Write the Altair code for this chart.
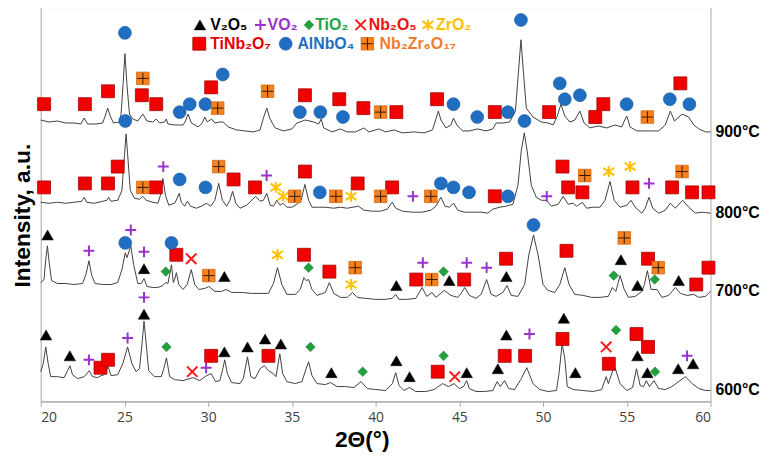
import altair as alt
import pandas as pd

# ---------------- data (2θ in degrees, intensity in a.u., stacked patterns) ----------------
temps = ["900°C", "800°C", "700°C", "600°C"]

p900 = [(20.0,284),(20.5,282),(21.0,283),(21.5,281),(22.0,281),(22.4,280),(22.6,286),(22.8,280),(23.3,280),
        (23.7,281),(23.85,288),(24.0,296),(24.15,288),(24.35,281),(24.7,282),(24.8,290),(24.92,320),(25.03,351),
        (25.15,320),(25.3,290),(25.5,285),(25.8,283),(26.1,290),(26.35,283),(26.7,282),(26.9,285),(27.1,281),
        (27.4,282),(27.5,285),(27.6,280),(28.0,279),(28.5,279),(28.65,283),(28.8,290),(29.0,281),(29.4,277),
        (29.65,281),(29.8,287),(29.95,282),(30.2,285),(30.4,281),(30.7,282),(30.9,282),(31.2,277),(31.7,274),
        (32.2,273),(32.7,272),(33.1,274),(33.3,286),(33.5,296),(33.7,285),(34.0,276),(34.5,273),(35.0,275),
        (35.3,281),(35.8,284),(36.3,282),(36.6,280),(36.75,285),(36.9,276),(37.4,272),(37.9,275),(38.3,272),
        (38.8,272),(39.3,276),(39.6,272),(40.2,275),(40.6,272),(41.1,274),(41.6,271),(42.3,272),(42.9,271),
        (43.4,274),(43.6,285),(43.75,293),(43.9,284),(44.2,276),(44.5,279),(44.65,286),(44.85,279),(45.2,273),
        (45.6,273),(46.1,275),(46.6,273),(47.0,275),(47.2,281),(47.6,281),(48.0,282),(48.35,293),(48.52,330),
        (48.68,365),(48.84,330),(49.0,296),(49.4,287),(49.9,282),(50.3,281),(50.6,279),(50.85,288),(51.07,300),
        (51.3,288),(51.6,282),(51.9,284),(52.2,293),(52.45,281),(52.8,276),(53.3,278),(53.8,276),(54.3,279),
        (54.7,277),(54.85,283),(55.0,288),(55.2,277),(55.6,273),(56.3,273),(56.9,273),(57.3,279),(57.6,293),
        (57.85,283),(58.3,290),(58.7,287),(59.0,279),(59.3,275),(59.7,272),(60.0,272)]

p800 = [(20.0,201),(20.5,200),(21.0,201),(21.5,200),(22.0,201),(22.45,202),(22.6,206),(22.75,201),(23.2,200),
        (23.7,202),(23.95,203),(24.06,206),(24.2,202),(24.6,203),(24.85,213),(24.98,243),(25.1,270),(25.22,243),
        (25.35,213),(25.6,205),(25.9,204),(26.1,207),(26.3,203),(26.7,201),(27.0,200),(27.15,208),(27.3,225),
        (27.45,208),(27.65,198),(28.0,200),(28.15,205),(28.27,210),(28.4,201),(28.6,197),(28.76,202),(28.95,197),
        (29.3,195),(29.6,197),(29.9,200),(30.15,197),(30.4,203),(30.63,220),(30.85,203),(31.1,197),(31.3,203),
        (31.46,212),(31.65,200),(31.9,195),(32.3,198),(32.84,207),(33.1,202),(33.3,203),(33.5,210),(33.7,198),
        (33.9,197),(34.1,203),(34.3,198),(34.48,200),(34.7,196),(35.0,196),(35.3,199),(35.55,203),(35.78,219),
        (36.0,203),(36.2,196),(36.6,196),(37.0,196),(37.5,195),(37.9,196),(38.3,195),(38.98,197),(39.3,193),
        (39.8,192),(40.3,192),(40.7,194),(40.99,201),(41.2,195),(41.6,192),(42.2,191),(42.8,191),(43.3,193),
        (43.6,197),(43.9,206),(44.15,197),(44.4,196),(44.67,200),(44.9,193),(45.3,191),(45.8,191),(46.3,191),
        (46.7,190),(47.0,194),(47.4,196),(47.8,197),(48.2,199),(48.5,218),(48.7,253),(48.88,271),(49.05,253),
        (49.3,218),(49.6,206),(49.9,203),(50.2,203),(50.5,197),(50.9,199),(51.2,207),(51.5,199),(51.8,200),
        (52.0,197),(52.35,201),(52.6,195),(53.0,196),(53.4,196),(53.7,203),(54.0,222),(54.25,203),(54.6,196),
        (55.0,198),(55.25,203),(55.5,196),(55.9,190),(56.1,195),(56.33,206),(56.55,195),(56.9,190),(57.3,193),
        (57.6,200),(57.9,195),(58.34,203),(58.7,196),(59.1,190),(59.5,191),(60.0,190)]

p700 = [(20.0,120),(20.2,123),(20.3,143),(20.4,157),(20.5,141),(20.65,122),(21.0,119),(21.5,119),(22.0,118),
        (22.5,119),(22.7,128),(22.88,142),(23.05,127),(23.25,119),(23.7,118),(24.2,118),(24.6,120),(24.85,133),
        (25.05,150),(25.15,145),(25.38,157),(25.55,138),(25.8,119),(26.0,119),(26.17,124),(26.35,116),(26.7,115),
        (27.0,115),(27.3,117),(27.47,120),(27.6,119),(27.7,128),(27.81,138),(27.92,120),(28.0,123),(28.1,130),
        (28.25,118),(28.5,113),(28.75,118),(28.99,133),(29.2,118),(29.45,113),(29.8,114),(30.04,116),(30.4,111),
        (30.8,111),(31.07,113),(31.4,110),(32.0,110),(32.6,109),(33.1,109),(33.6,109),(33.9,119),(34.14,135),
        (34.4,118),(34.7,108),(35.2,108),(35.5,113),(35.72,125),(35.85,122),(36.0,123),(36.2,113),(36.5,107),
        (37.0,110),(37.24,120),(37.5,109),(37.9,105),(38.3,105),(38.62,110),(38.9,105),(39.4,104),(40.0,103),
        (40.6,103),(41.0,104),(41.2,108),(41.4,103),(41.9,103),(42.4,104),(42.78,115),(43.05,106),(43.37,110),
        (43.6,105),(44.1,112),(44.5,107),(44.9,105),(45.1,109),(45.33,115),(45.6,107),(46.0,104),(46.3,108),
        (46.63,123),(46.9,108),(47.2,106),(47.6,110),(47.85,117),(48.1,107),(48.5,106),(48.9,118),(49.15,148),
        (49.43,168),(49.7,148),(50.0,118),(50.3,112),(50.7,110),(51.0,118),(51.3,135),(51.55,118),(51.9,108),
        (52.4,107),(52.9,105),(53.4,105),(53.9,106),(54.14,115),(54.35,111),(54.6,127),(54.85,113),(55.1,105),
        (55.5,106),(55.9,111),(56.05,118),(56.23,132),(56.45,113),(56.8,113),(57.1,105),(57.5,107),(57.9,115),
        (58.2,109),(58.6,107),(59.0,108),(59.3,105),(59.7,106),(60.0,111)]

p600 = [(20.0,30),(20.15,38),(20.3,55),(20.45,38),(20.6,25),(21.0,25),(21.4,24),(21.6,31),(21.75,36),(21.9,27),
        (22.2,23),(22.6,25),(22.9,31),(23.1,25),(23.4,24),(23.6,26),(23.8,27),(24.03,35),(24.2,26),(24.6,27),
        (24.9,38),(25.19,55),(25.45,38),(25.7,30),(25.9,33),(26.05,58),(26.17,81),(26.3,58),(26.45,31),(26.8,25),
        (27.2,25),(27.35,33),(27.51,44),(27.7,25),(28.0,22),(28.5,21),(29.1,24),(29.5,21),(29.9,26),(30.18,28),
        (30.45,20),(30.7,21),(30.85,31),(30.99,42),(31.15,28),(31.4,19),(31.9,18),(32.1,23),(32.35,45),(32.55,25),
        (32.8,23),(33.1,33),(33.36,36),(33.6,31),(33.9,28),(34.05,25),(34.28,48),(34.45,28),(34.7,20),(35.2,18),
        (35.6,20),(35.85,33),(36.0,40),(36.2,26),(36.5,18),(37.0,17),(37.3,19),(37.7,15),(38.2,15),(38.7,14),
        (39.13,20),(39.5,13),(40.0,12),(40.6,11),(41.0,18),(41.2,29),(41.4,16),(41.7,11),(42.03,14),(42.4,10),
        (43.0,10),(43.5,12),(44.0,18),(44.35,15),(44.69,18),(45.0,13),(45.25,15),(45.44,21),(45.6,13),(46.0,10),
        (46.5,10),(47.0,11),(47.26,20),(47.45,15),(47.7,21),(47.95,13),(48.3,12),(48.7,23),(49.03,34),(49.4,18),
        (49.8,12),(50.3,10),(50.8,11),(50.95,28),(51.14,58),(51.3,43),(51.45,15),(51.8,12),(52.4,11),(53.0,10),
        (53.5,12),(53.77,25),(53.9,18),(54.26,36),(54.6,18),(55.0,11),(55.35,14),(55.58,33),(55.8,16),(56.0,15),
        (56.17,21),(56.35,15),(56.63,21),(56.9,13),(57.3,12),(57.7,15),(58.1,20),(58.5,25),(58.9,18),(59.3,13),
        (59.7,11),(60.0,11)]

# phase identification marks: (2θ, intensity)
V2O5 = [(20.41,168),(26.17,134),(30.97,126),(41.24,117),(44.4,122),(47.81,126),(54.65,143),(55.64,117),(58.1,122),
        (20.32,67),(21.74,46),(26.17,88),(30.97,50),(32.35,55),(33.4,63),(34.34,58),(37.36,29),(41.24,41),
        (42.03,25),(45.44,29),(47.3,33),(47.81,67),(51.24,84),(51.93,29),(55.64,46),(56.23,29),(58.07,33),(58.96,38)]
VO2 = [(27.32,237),(33.49,228),(42.23,207),(50.22,207),(56.33,220),
       (22.88,152),(25.38,173),(26.17,151),(42.82,140),(45.44,140),(46.63,135),
       (22.88,42),(25.19,64),(26.17,105),(29.88,34),(49.19,68),(58.6,46)]
TiO2 = [(27.47,131),(36.0,135),(44.06,131),(54.22,127),(56.67,123),
        (27.51,55),(36.11,55),(39.23,30),(44.06,46),(54.36,72),(56.69,30)]
Nb2O5 = [(28.99,144),(29.05,30),(44.73,25),(53.77,55)]
ZrO2 = [(34.04,216),(34.48,207),(38.54,207),(53.92,232),(55.2,237),(34.14,148),(38.54,118)]
TiNb2O7 = [(20.2,300),(22.64,300),(24.02,313),(26.04,309),(26.9,300),(30.18,317),(35.78,309),(37.83,305),
           (39.27,296),(41.24,292),(43.67,305),(47.12,292),(50.36,292),(53.12,287),(53.6,300),(58.2,321),
           (20.2,216),(22.64,220),(24.02,220),(24.6,237),(26.88,216),(31.52,224),(32.8,216),(35.78,232),
           (38.93,220),(40.99,216),(47.12,207),(51.16,237),(51.5,216),(52.35,211),(55.34,216),(57.71,216),
           (58.9,211),(59.88,211),
           (28.1,148),(35.72,148),(37.24,131),(42.43,123),(45.29,123),(47.79,144),(51.4,152),(56.27,144),
           (59.15,118),(59.88,135),
           (23.57,34),(24.02,42),(30.18,46),(33.6,46),(43.71,30),(47.71,46),(48.93,46),(51.16,63),(53.93,38),
           (55.58,68),(56.27,55)]
AlNbO4 = [(25.03,372),(28.3,292),(28.9,300),(29.84,300),(30.87,330),(35.48,292),(36.7,292),(38.05,287),
          (44.65,300),(46.07,287),(47.9,292),(48.68,385),(51.0,321),(51.3,305),(52.2,309),(54.99,300),
          (57.57,305),(58.74,300),
          (25.05,283),(28.3,224),(29.84,216),(36.67,211),(43.9,220),(44.65,216),(45.58,211),(47.9,207),(48.89,283),
          (25.05,160),(27.81,160),(49.43,178)]
Nb2Zr6O17 = [(26.1,326),(30.57,296),(33.55,313),(40.3,292),(56.23,287),
             (26.1,216),(30.63,237),(35.17,207),(37.63,207),(40.3,207),(43.3,207),(52.49,228),(58.3,232),
             (30.04,127),(38.78,135),(43.35,123),(54.85,165),(56.88,135)]

phases = ["V2O5", "VO2", "TiO2", "Nb2O5", "ZrO2", "TiNb2O7", "AlNbO4", "Nb2Zr6O17"]
phase_marks = [V2O5, VO2, TiO2, Nb2O5, ZrO2, TiNb2O7, AlNbO4, Nb2Zr6O17]
phase_labels = ["V₂O₅", "VO₂", "TiO₂", "Nb₂O₅", "ZrO₂", "TiNb₂O₇", "AlNbO₄", "Nb₂Zr₆O₁₇"]

# ---------------- styles & layout ----------------
PLUS = "M-1,0L1,0M0,-1L0,1"
XSH = "M-1,-1L1,1M-1,1L1,-1"
STAR = "M-1,-0.7L1,0.7M-1,0.7L1,-0.7M0,-1L0,1"
STYLE = {
    "V2O5": dict(shape="triangle-up", size=135, filled=True, color="#000000", edge="#000000", sw=0.5, text="#000000"),
    "VO2": dict(shape=PLUS, size=120, filled=False, color="#9932CC", sw=2, text="#9932CC"),
    "TiO2": dict(shape="diamond", size=95, filled=True, color="#22A03E", edge="#1A8030", sw=0.5, text="#1FA347"),
    "Nb2O5": dict(shape=XSH, size=110, filled=False, color="#FF1A1A", sw=2, text="#EE1111"),
    "ZrO2": dict(shape=STAR, size=120, filled=False, color="#FFC000", sw=2, text="#FFC000"),
    "TiNb2O7": dict(shape="square", size=170, filled=True, color="#F20000", edge="#A80000", sw=0.8, text="#E60000"),
    "AlNbO4": dict(shape="circle", size=170, filled=True, color="#1F6EC2", edge="#17589E", sw=0.6, text="#1F6EC2"),
    "Nb2Zr6O17": dict(shape="square", size=160, filled=True, color="#F6821F", edge="#D4650E", sw=0.8, text="#EE7D2E"),
}

# legend placement in data coordinates (2θ of symbol, 2θ of text, intensity row)
LEG = {
    "V2O5": (29.51, 30.12, 380), "VO2": (33.12, 33.55, 380), "TiO2": (36.02, 36.39, 380),
    "Nb2O5": (39.11, 39.59, 380), "ZrO2": (43.12, 43.61, 380),
    "TiNb2O7": (29.47, 30.12, 361), "AlNbO4": (34.63, 35.33, 361), "Nb2Zr6O17": (39.51, 40.24, 361),
}

xscale = alt.Scale(domain=[20, 60], nice=False, zero=False)
yscale = alt.Scale(domain=[0, 398], nice=False, zero=False)
xaxis = alt.Axis(values=list(range(20, 61, 5)), format="d", grid=False,
                 labelFontSize=14, labelFont="Open Sans", labelColor="#404040", labelPadding=4,
                 tickColor="#A6A6A6", tickSize=5, domainColor="#A6A6A6",
                 title="2Θ(°)", titleFontSize=23, titleFont="Liberation Sans", titleFontWeight="bold",
                 titleColor="#000000", titleX=324, titleY=38, titleBaseline="middle")
yaxis = alt.Axis(labels=False, ticks=False, domain=False, grid=False,
                 title="Intensity, a.u.", titleFontSize=23, titleFont="Liberation Sans",
                 titleFontWeight="bold", titleColor="#000000", titleAngle=270,
                 titleX=-18, titleY=210, titleAlign="center", titleBaseline="middle")
X = alt.X("tt:Q", scale=xscale, axis=xaxis)
Y = alt.Y("I:Q", scale=yscale, axis=yaxis)

# ---------------- build ----------------
curve_df = pd.DataFrame([{"temp": t, "tt": x, "I": y}
                         for t, pts in zip(temps, [p900, p800, p700, p600]) for x, y in pts])
mark_df = pd.DataFrame([{"phase": ph, "tt": x, "I": y}
                        for ph, pts in zip(phases, phase_marks) for x, y in pts])
label_df = pd.DataFrame([{"temp": t, "tt": pts[-1][0], "I": pts[-1][1]}
                         for t, pts in zip(temps, [p900, p800, p700, p600])])
leg_sym_df = pd.DataFrame([{"phase": ph, "tt": LEG[ph][0], "I": LEG[ph][2]} for ph in phases])
leg_txt_df = pd.DataFrame([{"phase": ph, "label": lab, "col": STYLE[ph]["text"], "tt": LEG[ph][1], "I": LEG[ph][2]}
                           for ph, lab in zip(phases, phase_labels)])


def symbol_layers(df):
    out = []
    for ph in phases:
        st = STYLE[ph]
        sub = df[df["phase"] == ph]
        base = alt.Chart(sub)
        if st["filled"]:
            m = base.mark_point(shape=st["shape"], size=st["size"], filled=True, fill=st["color"],
                                stroke=st["edge"], strokeWidth=st["sw"], opacity=1)
        else:
            m = base.mark_point(shape=st["shape"], size=st["size"], filled=False,
                                stroke=st["color"], strokeWidth=st["sw"], opacity=1)
        out.append(m.encode(x=X, y=Y))
        if ph == "Nb2Zr6O17":
            out.append(base.mark_point(shape=PLUS, size=st["size"] * 0.85, filled=False,
                                       stroke="#3A1A00", strokeWidth=1, opacity=1).encode(x=X, y=Y))
    return out


lines = alt.Chart(curve_df).mark_line(color="#404040", strokeWidth=1).encode(x=X, y=Y, detail="temp:N")
temp_text = alt.Chart(label_df).mark_text(align="left", baseline="middle", dx=5, fontSize=16,
                                          fontWeight="bold", font="Liberation Sans", color="#000000"
                                          ).encode(x=X, y=Y, text="temp:N")
leg_text = alt.Chart(leg_txt_df).mark_text(align="left", baseline="middle", fontSize=16,
                                           fontWeight="bold", font="Liberation Sans"
                                           ).encode(x=X, y=Y, text="label:N",
                                                    color=alt.Color("col:N", scale=None))

chart = alt.layer(lines, *symbol_layers(mark_df), *symbol_layers(leg_sym_df), leg_text, temp_text).properties(
    width=676, height=398,
    padding={"left": 33, "top": -3, "right": 54, "bottom": 50},
    autosize=alt.AutoSizeParams(type="none"),
).configure_view(stroke="#A6A6A6", strokeWidth=1)

chart.save("out.html", embed_options={"renderer": "svg", "actions": False})
